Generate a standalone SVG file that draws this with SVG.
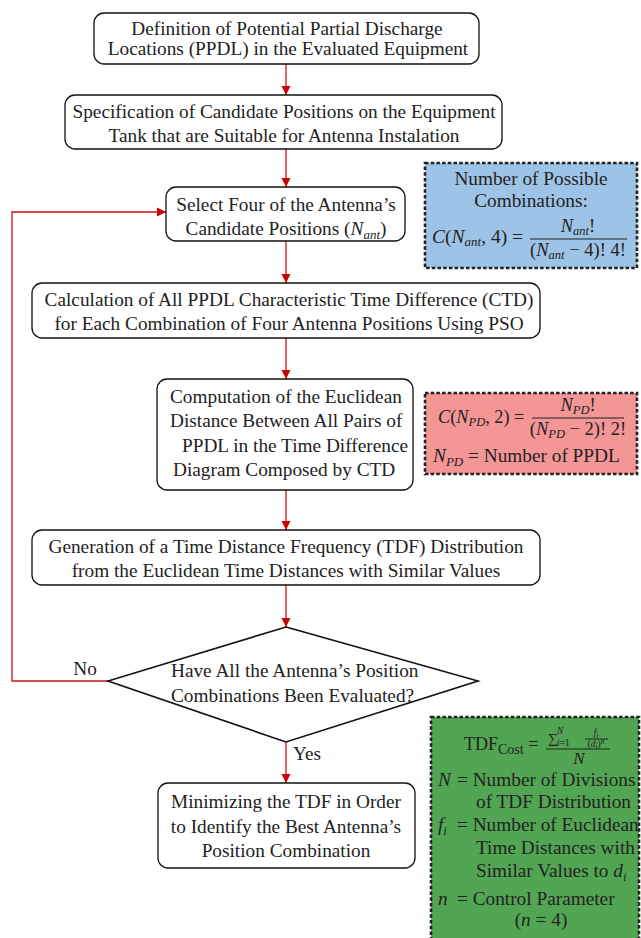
<svg xmlns="http://www.w3.org/2000/svg" width="641" height="938" viewBox="0 0 641 938">
  <style>
    .box { fill: #ffffff; stroke: #111111; stroke-width: 1.3; }
    .dec { fill: #ffffff; stroke: #111111; stroke-width: 1.6; }
    .t { font-family: 'Liberation Serif', serif; font-size: 19.3px; fill: #222222; }
    .c { text-anchor: middle; }
    .m { font-family: 'Liberation Serif', serif; fill: #222222; }
    .i { font-style: italic; }
    .conn { fill: none; stroke: #cc1111; stroke-width: 1.3; }
    .note { stroke: #222222; stroke-width: 2.6; stroke-dasharray: 3.5 2.2; }
    .bar { stroke: #222222; stroke-width: 1; }
  </style>
  <defs>
    <marker id="arrow" viewBox="0 0 10 10" refX="10" refY="5" markerWidth="9" markerHeight="10" markerUnits="userSpaceOnUse" orient="auto">
      <path d="M0,0 L10,5 L0,10 z" fill="#cc0000"/>
    </marker>
  </defs>

  <rect width="641" height="938" fill="#ffffff"/>

  <!-- connectors -->
  <g id="connectors">
    <path class="conn" d="M286,64 V95" marker-end="url(#arrow)"/>
    <path class="conn" d="M286,149 V187" marker-end="url(#arrow)"/>
    <path class="conn" d="M286,241 V283" marker-end="url(#arrow)"/>
    <path class="conn" d="M286,338 V379" marker-end="url(#arrow)"/>
    <path class="conn" d="M286,490 V530" marker-end="url(#arrow)"/>
    <path class="conn" d="M286,585 V627" marker-end="url(#arrow)"/>
    <path class="conn" d="M108,681 H12 V212 H166" marker-end="url(#arrow)"/>
    <path class="conn" d="M286,742 V783" marker-end="url(#arrow)"/>
    <text class="t c" x="85" y="675">No</text>
    <text class="t" x="293" y="760">Yes</text>
  </g>

  <!-- process steps -->
  <g id="n1">
    <rect class="box" x="94" y="13" width="385" height="51" rx="10"/>
    <text class="t c" x="287" y="35">Definition of Potential Partial Discharge</text>
    <text class="t c" x="288" y="55">Locations (PPDL) in the Evaluated Equipment</text>
  </g>

  <g id="n2">
    <rect class="box" x="65" y="95" width="437" height="54" rx="10"/>
    <text class="t c" x="284" y="118">Specification of Candidate Positions on the Equipment</text>
    <text class="t c" x="284" y="142">Tank that are Suitable for Antenna Instalation</text>
  </g>

  <g id="n3">
    <rect class="box" x="166" y="187" width="239" height="54" rx="10"/>
    <text class="t c" x="286" y="211">Select Four of the Antenna’s</text>
    <text class="t c" x="286" y="235">Candidate Positions (<tspan class="i">N</tspan><tspan class="i" font-size="13" dy="4">ant</tspan><tspan dy="-4">)</tspan></text>
  </g>

  <g id="n4">
    <rect class="box" x="32" y="283" width="508" height="55" rx="10"/>
    <text class="t c" x="289" y="306">Calculation of All PPDL Characteristic Time Difference (CTD)</text>
    <text class="t c" x="289" y="330">for Each Combination of Four Antenna Positions Using PSO</text>
  </g>

  <g id="n5">
    <rect class="box" x="157" y="379" width="256" height="111" rx="10"/>
    <text class="t" x="170" y="403">Computation of the Euclidean</text>
    <text class="t" x="170" y="427">Distance Between All Pairs of</text>
    <text class="t" x="182" y="452">PPDL in the Time Difference</text>
    <text class="t" x="173" y="476">Diagram Composed by CTD</text>
  </g>

  <g id="n6">
    <rect class="box" x="32" y="530" width="508" height="55" rx="10"/>
    <text class="t c" x="286" y="553">Generation of a Time Distance Frequency (TDF) Distribution</text>
    <text class="t c" x="286" y="577">from the Euclidean Time Distances with Similar Values</text>
  </g>

  <g id="n7">
    <polygon class="dec" points="286,627 478,681 286,742 108,681"/>
    <text class="t" x="171" y="677">Have All the Antenna’s Position</text>
    <text class="t" x="171" y="702">Combinations Been Evaluated?</text>
  </g>

  <g id="n8">
    <rect class="box" x="158" y="783" width="257" height="85" rx="10"/>
    <text class="t c" x="286" y="808">Minimizing the TDF in Order</text>
    <text class="t c" x="286" y="833">to Identify the Best Antenna’s</text>
    <text class="t c" x="286" y="857">Position Combination</text>
  </g>

  <!-- annotation: number of antenna combinations -->
  <g id="note-combinations">
    <rect class="note" x="425" y="163" width="212" height="105" fill="#9dc3e6"/>
    <text class="t c" x="531" y="185">Number of Possible</text>
    <text class="t c" x="531" y="207">Combinations:</text>
    <text class="m" x="432" y="243" font-size="19.5"><tspan class="i">C</tspan>(<tspan class="i">N</tspan><tspan class="i" font-size="13" dy="3">ant</tspan><tspan dy="-3">, 4) =</tspan></text>
    <text class="m" x="578" y="232" font-size="18.5" text-anchor="middle"><tspan class="i">N</tspan><tspan class="i" font-size="12.5" dy="3">ant</tspan><tspan dy="-3">!</tspan></text>
    <line class="bar" x1="530" y1="239" x2="627" y2="239"/>
    <text class="m" x="578" y="256" font-size="18.5" text-anchor="middle">(<tspan class="i">N</tspan><tspan class="i" font-size="12.5" dy="3">ant</tspan><tspan dy="-3"> − 4)! 4!</tspan></text>
  </g>

  <!-- annotation: number of PPDL pairs -->
  <g id="note-pairs">
    <rect class="note" x="425" y="393" width="212" height="81" fill="#f49596"/>
    <text class="m" x="438" y="423" font-size="18.3"><tspan class="i">C</tspan>(<tspan class="i">N</tspan><tspan class="i" font-size="12.5" dy="3">PD</tspan><tspan dy="-3">, 2) =</tspan></text>
    <text class="m" x="578" y="411" font-size="18.5" text-anchor="middle"><tspan class="i">N</tspan><tspan class="i" font-size="12.5" dy="3">PD</tspan><tspan dy="-3">!</tspan></text>
    <line class="bar" x1="532" y1="418" x2="624" y2="418"/>
    <text class="m" x="578" y="435" font-size="18.5" text-anchor="middle">(<tspan class="i">N</tspan><tspan class="i" font-size="12.5" dy="3">PD</tspan><tspan dy="-3"> − 2)! 2!</tspan></text>
    <text class="m" x="433" y="462" font-size="19.3"><tspan class="i">N</tspan><tspan class="i" font-size="13" dy="4">PD</tspan><tspan dy="-4"> = Number of PPDL</tspan></text>
  </g>

  <!-- annotation: TDF cost function -->
  <g id="note-cost">
    <rect class="note" x="431" y="717" width="208" height="223" fill="#52a552"/>
    <text class="m" x="464" y="750" font-size="18">TDF<tspan font-size="14" dy="4">Cost</tspan><tspan dy="-4" font-size="18"> =</tspan></text>
    <text class="m" x="548" y="743" font-size="14">∑</text>
    <text class="m" x="557" y="746" font-size="9.5"><tspan class="i">i</tspan>=1</text>
    <text class="m i" x="557" y="734" font-size="9.5">N</text>
    <text class="m i" x="596" y="736" font-size="10" text-anchor="middle">f<tspan font-size="7.5" dy="2">i</tspan></text>
    <line class="bar" x1="585" y1="739" x2="608" y2="739" stroke-width="0.7"/>
    <text class="m" x="596" y="747" font-size="9.5" text-anchor="middle">(<tspan class="i">d</tspan><tspan class="i" font-size="7.5" dy="2">i</tspan><tspan dy="-2">)</tspan><tspan class="i" font-size="7.5" dy="-3">n</tspan></text>
    <line class="bar" x1="546" y1="749" x2="610" y2="749"/>
    <text class="m i" x="579" y="764" font-size="17" text-anchor="middle">N</text>

    <text class="m i" x="438" y="786" font-size="19.3">N</text>
    <text class="t" x="457" y="786">= Number of Divisions</text>
    <text class="t" x="476" y="808">of TDF Distribution</text>
    <text class="m i" x="438" y="831" font-size="19.3">f<tspan font-size="13" dy="4">i</tspan></text>
    <text class="t" x="457" y="831">= Number of Euclidean</text>
    <text class="t" x="476" y="854">Time Distances with</text>
    <text class="t" x="476" y="877">Similar Values to <tspan class="i">d</tspan><tspan class="i" font-size="13" dy="4">i</tspan></text>
    <text class="m i" x="438" y="905" font-size="19.3">n</text>
    <text class="t" x="457" y="905">= Control Parameter</text>
    <text class="t c" x="541" y="926">(<tspan class="i">n</tspan> = 4)</text>
  </g>
</svg>
